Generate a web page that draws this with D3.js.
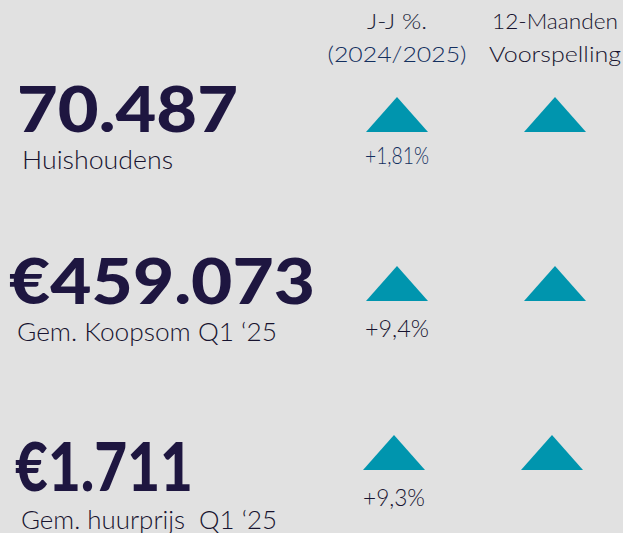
<!DOCTYPE html>
<html>
<head>
<meta charset="utf-8">
<script src="https://cdn.jsdelivr.net/npm/d3@7"></script>
<style>
  html, body { margin: 0; padding: 0; background: #e1e1e1; }
  svg { display: block; }
  text { font-family: Lato, "Open Sans", sans-serif; white-space: pre; }
</style>
</head>
<body>
<svg id="kpi" width="623" height="533"></svg>
<script>
// Values
const metricValues = ["70.487", "€459.073", "€1.711"];
const metricLabels = ["Huishoudens", "Gem. Koopsom Q1 ‘25", "Gem. huurprijs  Q1 ‘25"];
const yoyChange = ["+1,81%", "+9,4%", "+9,3%"];
const yoyDirection = ["up", "up", "up"];
const forecastDirection = ["up", "up", "up"];
const columnHeaders = [["J-J %.", "(2024/2025)"], ["12-Maanden", "Voorspelling"]];

const W = 623, H = 533;
const svg = d3.select("#kpi");

svg.append("rect").attr("width", W).attr("height", H).attr("fill", "#e1e1e1");

// rows: y of the triangle bases
const rowY = d3.scalePoint().domain(d3.range(metricValues.length)).range([132, 470]);
// small per-row nudges as in the original layout
const numberDy = [0, 3, 21];
const labelDy = [37, 40, 59];
const pctDy = [32, 36, 36];
const rowDx = [0, 0, -3];

// columns: centre x of the two indicator columns
const colX = d3.scaleOrdinal().domain(["yoy", "forecast"]).range([397, 555]);

// column headers
const headerColors = [["#201f38", "#14305f"], ["#17132f", "#17132f"]];
const headerWidths = [[60, 139], [126, 132]];
columnHeaders.forEach(function(lines, c) {
    let key = colX.domain()[c];
    lines.forEach(function(t, j) {
        svg.append("text")
            .attr("x", colX(key))
            .attr("y", 29 + j * 33)
            .attr("text-anchor", "middle")
            .attr("font-size", 21)
            .attr("font-weight", 300)
            .attr("fill", headerColors[c][j])
            .attr("textLength", headerWidths[c][j])
            .attr("lengthAdjust", "spacingAndGlyphs")
            .text(t);
    });
});

// big numbers
const numberX = [17, 9, 15];
const numberW = [221, 306, 178];
const numberSize = [62, 63, 66];
svg.append("g").selectAll("text")
    .data(metricValues)
    .enter().append("text")
    .attr("x", (d, i) => numberX[i])
    .attr("y", (d, i) => rowY(i) + numberDy[i])
    .attr("font-size", (d, i) => numberSize[i])
    .attr("font-weight", 900)
    .attr("fill", "#1e1640")
    .attr("textLength", (d, i) => numberW[i])
    .attr("lengthAdjust", "spacingAndGlyphs")
    .text(d => d);

// labels under the numbers
const labelX = [22, 17, 21];
const labelW = [151, 260, 256];
svg.append("g").selectAll("text")
    .data(metricLabels)
    .enter().append("text")
    .attr("x", (d, i) => labelX[i])
    .attr("y", (d, i) => rowY(i) + labelDy[i])
    .attr("font-size", 25)
    .attr("font-weight", 300)
    .attr("fill", "#17132f")
    .attr("textLength", (d, i) => labelW[i])
    .attr("lengthAdjust", "spacingAndGlyphs")
    .text(d => d);

// triangle marker: 62 wide, 35 tall, pointing up or down
function triangle(cx, baseY, dir) {
    let p = d3.path();
    let w = 31, h = 35;
    if (dir === "up") {
        p.moveTo(cx - w, baseY);
        p.lineTo(cx, baseY - h);
        p.lineTo(cx + w, baseY);
    } else {
        p.moveTo(cx - w, baseY - h);
        p.lineTo(cx, baseY);
        p.lineTo(cx + w, baseY - h);
    }
    p.closePath();
    return p.toString();
}

svg.append("g").selectAll("path")
    .data(yoyDirection)
    .enter().append("path")
    .attr("d", (d, i) => triangle(colX("yoy") + rowDx[i], rowY(i), d))
    .attr("fill", "#0095ae");

svg.append("g").selectAll("path")
    .data(forecastDirection)
    .enter().append("path")
    .attr("d", (d, i) => triangle(colX("forecast") + rowDx[i], rowY(i), d))
    .attr("fill", "#0095ae");

// year-on-year percentages
const pctColors = ["#14305f", "#17132f", "#17132f"];
const pctW = [64, 64, 62];
svg.append("g").selectAll("text")
    .data(yoyChange)
    .enter().append("text")
    .attr("x", (d, i) => colX("yoy") + rowDx[i])
    .attr("y", (d, i) => rowY(i) + pctDy[i])
    .attr("text-anchor", "middle")
    .attr("font-size", 24)
    .attr("font-weight", 300)
    .attr("fill", (d, i) => pctColors[i])
    .attr("textLength", (d, i) => pctW[i])
    .attr("lengthAdjust", "spacingAndGlyphs")
    .text(d => d);
</script>
</body>
</html>
